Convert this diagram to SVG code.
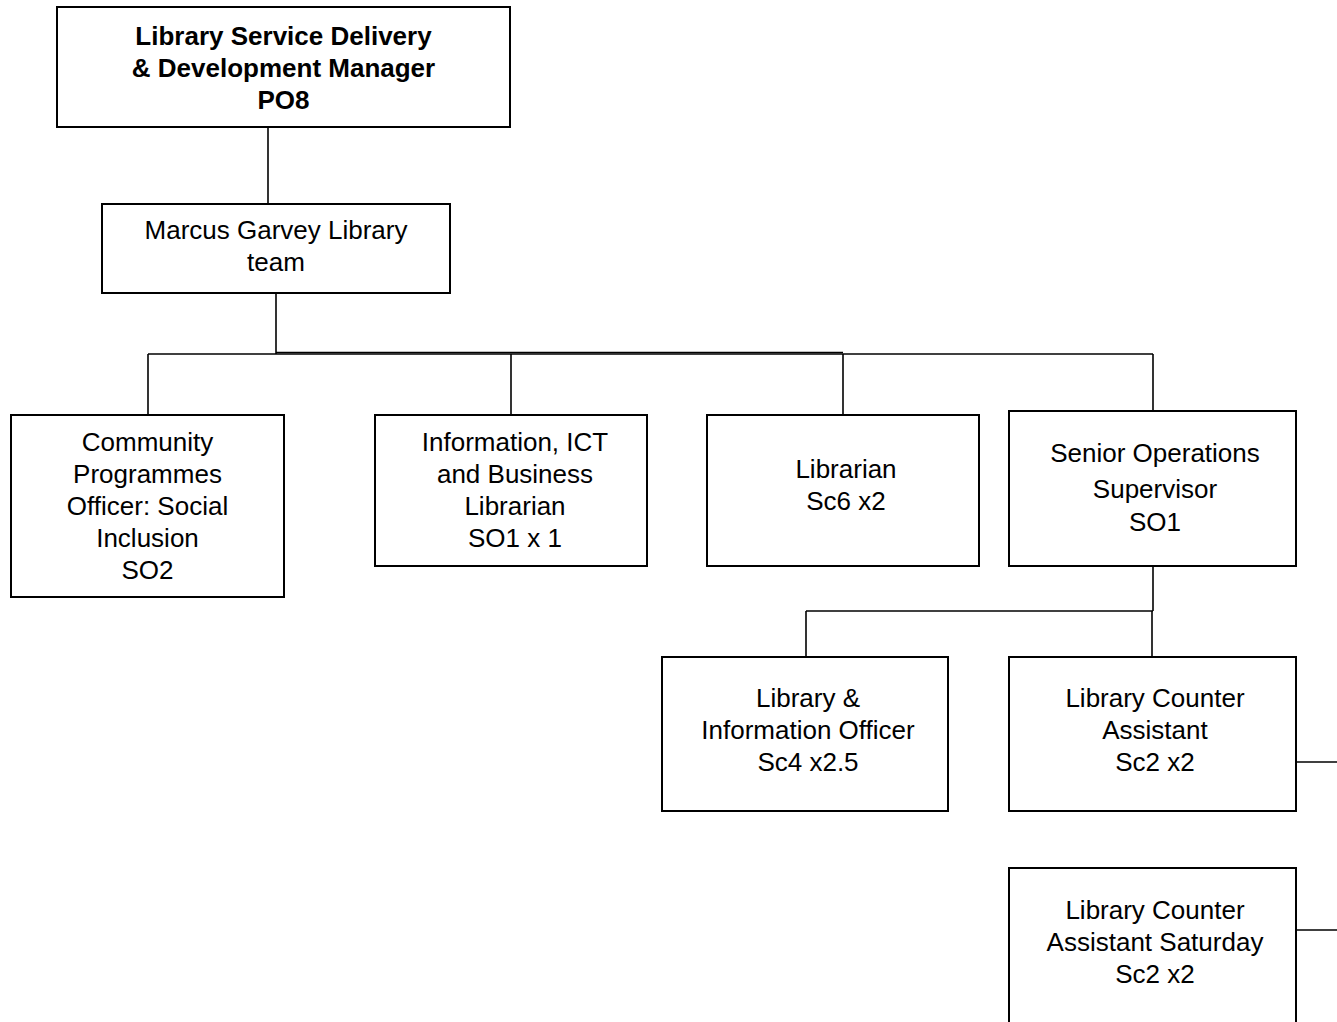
<svg xmlns="http://www.w3.org/2000/svg" width="1337" height="1022" viewBox="0 0 1337 1022">
<style>
.box{fill:#fff;stroke:#000;stroke-width:2}
.t{font-family:"Liberation Sans",Arial,sans-serif;font-size:26px;fill:#000;text-anchor:middle}
.b{font-weight:bold}
.c{fill:none;stroke:#000;stroke-width:1.6}
</style>
<rect width="1337" height="1022" fill="#fff"/>
<g id="connectors">
<line class="c" x1="268" y1="127" x2="268" y2="204"/>
<line class="c" x1="276" y1="293" x2="276" y2="354"/>
<line class="c" x1="148" y1="354" x2="1153" y2="354"/>
<line class="c" x1="276" y1="352.5" x2="843" y2="352.5"/>
<line class="c" x1="148" y1="354" x2="148" y2="415"/>
<line class="c" x1="511" y1="354" x2="511" y2="415"/>
<line class="c" x1="843" y1="354" x2="843" y2="415"/>
<line class="c" x1="1153" y1="354" x2="1153" y2="411"/>
<line class="c" x1="1153" y1="566" x2="1153" y2="611"/>
<line class="c" x1="806" y1="611" x2="1153" y2="611"/>
<line class="c" x1="806" y1="611" x2="806" y2="657"/>
<line class="c" x1="1152" y1="611" x2="1152" y2="657"/>
<line class="c" x1="1296" y1="762" x2="1337" y2="762"/>
<line class="c" x1="1296" y1="930" x2="1337" y2="930"/>
</g>
<g id="node-manager">
<rect class="box" x="57" y="7" width="453" height="120"/>
<text class="t b" x="283.5" y="45">Library Service Delivery</text>
<text class="t b" x="283.5" y="77">&amp; Development Manager</text>
<text class="t b" x="283.5" y="109">PO8</text>
</g>
<g id="node-team">
<rect class="box" x="102" y="204" width="348" height="89"/>
<text class="t" x="276" y="239">Marcus Garvey Library</text>
<text class="t" x="276" y="271">team</text>
</g>
<g id="node-community">
<rect class="box" x="11" y="415" width="273" height="182"/>
<text class="t" x="147.5" y="451">Community</text>
<text class="t" x="147.5" y="483">Programmes</text>
<text class="t" x="147.5" y="515">Officer: Social</text>
<text class="t" x="147.5" y="547">Inclusion</text>
<text class="t" x="147.5" y="579">SO2</text>
</g>
<g id="node-ict">
<rect class="box" x="375" y="415" width="272" height="151"/>
<text class="t" x="515" y="451">Information, ICT</text>
<text class="t" x="515" y="483">and Business</text>
<text class="t" x="515" y="515">Librarian</text>
<text class="t" x="515" y="547">SO1 x 1</text>
</g>
<g id="node-librarian">
<rect class="box" x="707" y="415" width="272" height="151"/>
<text class="t" x="846" y="478">Librarian</text>
<text class="t" x="846" y="510">Sc6 x2</text>
</g>
<g id="node-senior">
<rect class="box" x="1009" y="411" width="287" height="155"/>
<text class="t" x="1155" y="462">Senior Operations</text>
<text class="t" x="1155" y="498">Supervisor</text>
<text class="t" x="1155" y="531">SO1</text>
</g>
<g id="node-lio">
<rect class="box" x="662" y="657" width="286" height="154"/>
<text class="t" x="808" y="707">Library &amp;</text>
<text class="t" x="808" y="739">Information Officer</text>
<text class="t" x="808" y="771">Sc4 x2.5</text>
</g>
<g id="node-lca">
<rect class="box" x="1009" y="657" width="287" height="154"/>
<text class="t" x="1155" y="707">Library Counter</text>
<text class="t" x="1155" y="739">Assistant</text>
<text class="t" x="1155" y="771">Sc2 x2</text>
</g>
<g id="node-lca-sat">
<rect class="box" x="1009" y="868" width="287" height="170"/>
<text class="t" x="1155" y="919">Library Counter</text>
<text class="t" x="1155" y="951">Assistant Saturday</text>
<text class="t" x="1155" y="983">Sc2 x2</text>
</g>
</svg>
